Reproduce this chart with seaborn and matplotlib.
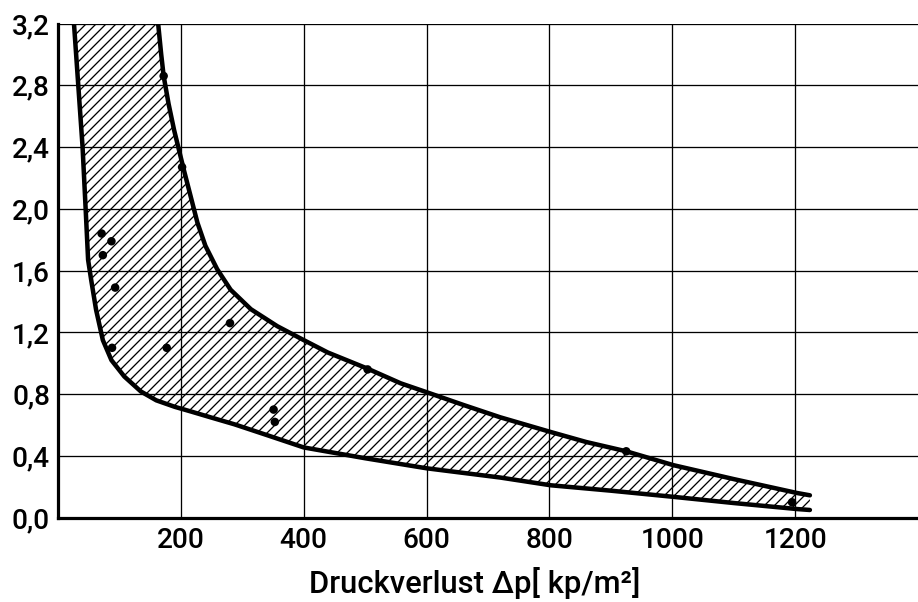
import seaborn as sns
import matplotlib.pyplot as plt

# ---- data ----
# upper (right) boundary of the band
upper_x = [163, 168, 172, 180, 189, 197, 205, 216, 227, 240, 259, 281, 314,
           357, 400, 439, 504, 558, 602, 660, 720, 802, 860, 925, 1002, 1100,
           1203, 1224]
upper_y = [3.2, 3.0, 2.86, 2.68, 2.51, 2.38, 2.25, 2.08, 1.91, 1.76, 1.61,
           1.476, 1.35, 1.24, 1.15, 1.07, 0.965, 0.87, 0.81, 0.73, 0.65, 0.555,
           0.49, 0.43, 0.34, 0.25, 0.16, 0.145]

# lower (left) boundary of the band
lower_x = [26, 33, 40, 45, 49, 54, 62, 73, 87, 108, 135, 160, 190, 217, 250,
           287, 340, 400, 500, 600, 720, 802, 900, 1002, 1100, 1203, 1224]
lower_y = [3.2, 2.8, 2.4, 2.0, 1.67, 1.54, 1.346, 1.15, 1.02, 0.914, 0.817,
           0.76, 0.718, 0.687, 0.648, 0.605, 0.535, 0.455, 0.385, 0.32, 0.26,
           0.21, 0.175, 0.135, 0.095, 0.056, 0.05]

# measured points
pts_x = [172, 202, 71, 87, 73, 93, 88, 177, 280, 351, 353, 504, 925, 1195]
pts_y = [2.86, 2.27, 1.84, 1.79, 1.70, 1.49, 1.10, 1.10, 1.26, 0.70, 0.62,
         0.96, 0.43, 0.10]

x_ticks = [200, 400, 600, 800, 1000, 1200]
y_ticks = [0.0, 0.4, 0.8, 1.2, 1.6, 2.0, 2.4, 2.8, 3.2]
y_labels = ["0,0", "0,4", "0,8", "1,2", "1,6", "2,0", "2,4", "2,8", "3,2"]

# ---- style ----
DPI = 60
PT = 72 / DPI  # points per pixel

sns.set_style("white")
plt.rcParams["font.family"] = ["Roboto", "DejaVu Sans"]
plt.rcParams["hatch.linewidth"] = 1.3 * PT

fig = plt.figure(figsize=(918 / DPI, 602 / DPI), dpi=DPI)
ax = fig.add_axes([58 / 918, (602 - 517.7) / 602, 1 - 58 / 918, (517.7 - 23.5) / 602])

# hatched band between the two curves
poly_x = upper_x + lower_x[::-1]
poly_y = upper_y + lower_y[::-1]
ax.fill(poly_x, poly_y, facecolor="none", edgecolor="black", hatch="//",
        linewidth=0, zorder=2)

sns.lineplot(x=upper_x, y=upper_y, sort=False, estimator=None, color="black",
             linewidth=4.5 * PT, ax=ax, zorder=3)
sns.lineplot(x=lower_x, y=lower_y, sort=False, estimator=None, color="black",
             linewidth=4.5 * PT, ax=ax, zorder=3)
sns.scatterplot(x=pts_x, y=pts_y, color="black", s=(8.5 * PT) ** 2,
                edgecolor="none", ax=ax, zorder=4)

ax.set_xlim(0, 1400)
ax.set_ylim(0, 3.2)
ax.set_xticks(x_ticks)
ax.set_xticklabels([str(t) for t in x_ticks])
ax.set_yticks(y_ticks)
ax.set_yticklabels(y_labels)
ax.tick_params(axis="both", length=0, labelsize=28 * PT, colors="black")
ax.tick_params(axis="x", pad=9 * PT)
ax.tick_params(axis="y", pad=8 * PT)
for lab in ax.get_xticklabels() + ax.get_yticklabels():
    lab.set_fontweight("medium")

ax.grid(True, color="black", linewidth=1.3 * PT)
ax.set_axisbelow(True)

for side in ["top", "right"]:
    ax.spines[side].set_visible(False)
for side in ["left", "bottom"]:
    ax.spines[side].set_linewidth(3.2 * PT)
    ax.spines[side].set_color("black")

ax.set_xlabel("Druckverlust Δp[ kp/m²]", fontsize=31 * PT, fontweight="medium",
              color="black")
ax.xaxis.set_label_coords(0.485, -0.1, transform=ax.transAxes)
ax.xaxis.label.set_va("top")
ax.set_ylabel("")

fig.savefig("out.png", dpi=DPI)
